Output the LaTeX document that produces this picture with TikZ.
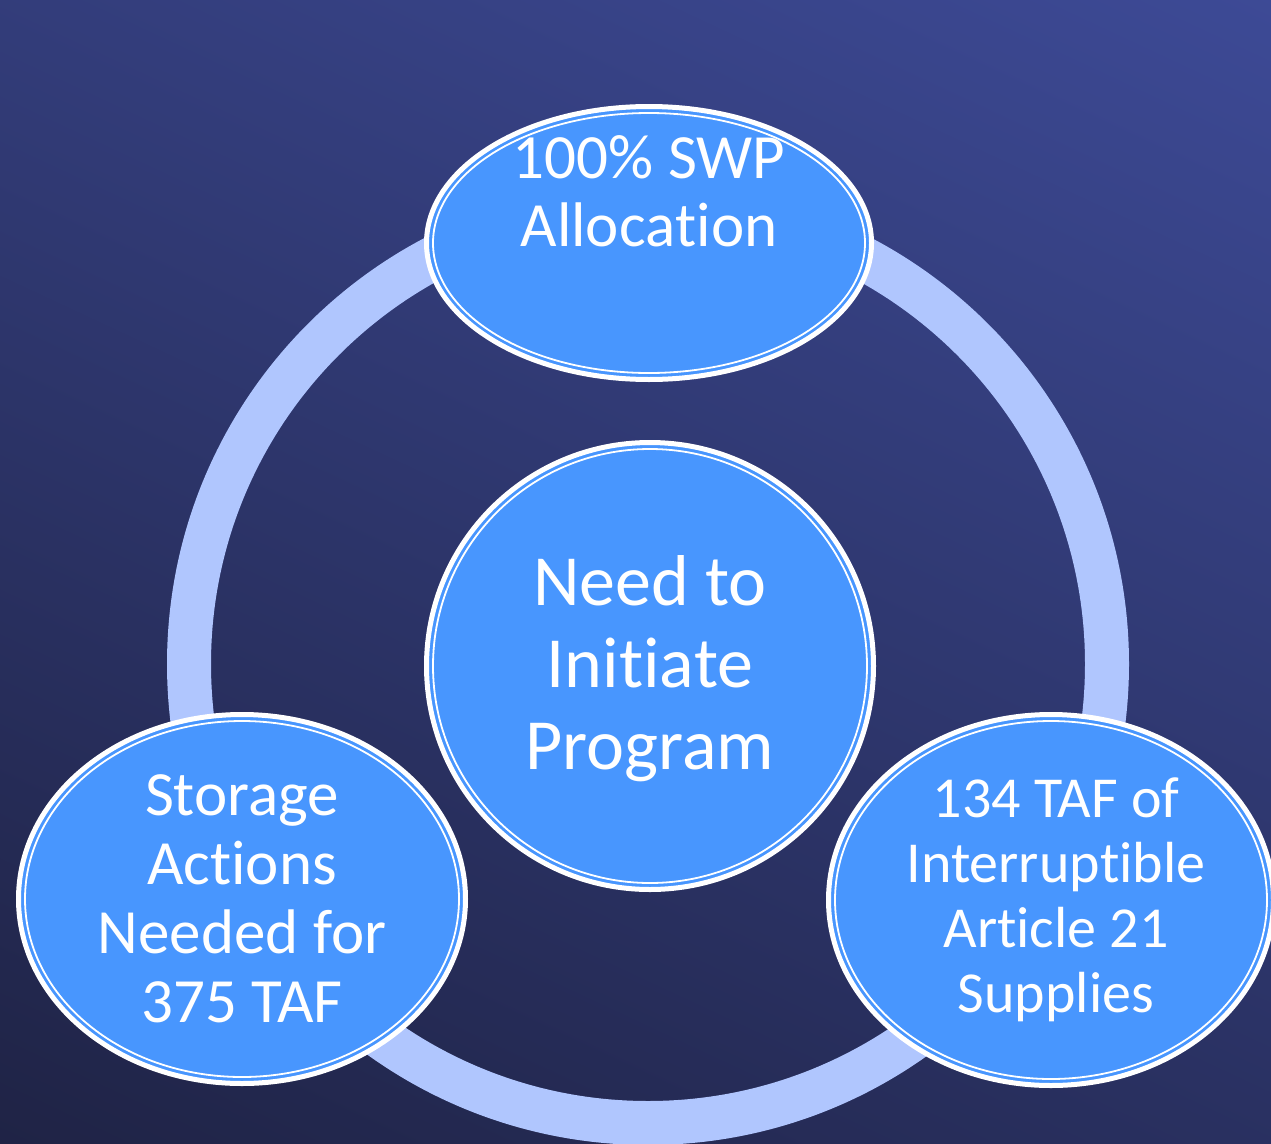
\documentclass[tikz,border=0pt]{standalone}
\usepackage{fontspec}
\setmainfont{Carlito}[Ligatures={NoCommon,NoContextual}]
\usetikzlibrary{shapes.geometric}
\definecolor{bgtop}{HTML}{3D4A96}
\definecolor{bgbot}{HTML}{1F2345}
\definecolor{ringc}{HTML}{B0C6FE}
\definecolor{bubble}{HTML}{4896FE}
\newcommand{\nolig}{\kern0pt }
\tikzset{
  bubblebox/.style={ellipse, fill=bubble, draw=white, line width=5pt, inner sep=0pt, text=white, align=center},
  innerline/.style={draw=white, line width=1.8pt},
  bubbletext/.style={text=white, align=center},
}
\begin{document}
\begin{tikzpicture}[x=1pt,y=-1pt]
\useasboundingbox (0,0) rectangle (1271,1143);
\clip (0,0) rectangle (1271,1143);
\shade[top color=bgtop, bottom color=bgbot, shading angle=-25] (-200,-200) rectangle (1471,1343);
% ring
\coordinate (ringc) at (648,664);
\draw[ringc, line width=44pt] (ringc) circle [radius=459];
% top
\node[bubblebox, minimum width=445pt, minimum height=273pt] (top) at (649,243) {};
\draw[innerline] (top.center) ellipse [x radius=216, y radius=130];
\node[bubbletext, font=\fontsize{63}{68}\selectfont] (toptext) at (649,191) {100\% SWP\\Alloca\nolig tion};
% center
\node[bubblebox, minimum width=447pt, minimum height=447pt] (ctr) at (650,666) {};
\draw[innerline] (ctr.center) ellipse [x radius=217, y radius=217];
\node[bubbletext, font=\fontsize{72}{82}\selectfont] (ctrtext) at (650,669) {Need to\\Ini\nolig tia\nolig te\\Program};
% bottom left
\node[bubblebox, minimum width=447pt, minimum height=369pt, font=\fontsize{63}{69}\selectfont] (bl) at (242,899) {Storage\\Actions\\Needed for\\375 TAF};
\draw[innerline] (bl.center) ellipse [x radius=217, y radius=178];
% bottom right
\node[bubblebox, minimum width=445pt, minimum height=371pt, font=\fontsize{58}{65}\selectfont] (br) at (1051,900) {\hspace*{10pt}134 TAF of\\\hspace*{10pt}Interrup\nolig tible\\\hspace*{10pt}Ar\nolig ticle 21\\\hspace*{10pt}Supplies};
\draw[innerline] (br.center) ellipse [x radius=216, y radius=179];
\end{tikzpicture}
\end{document}
